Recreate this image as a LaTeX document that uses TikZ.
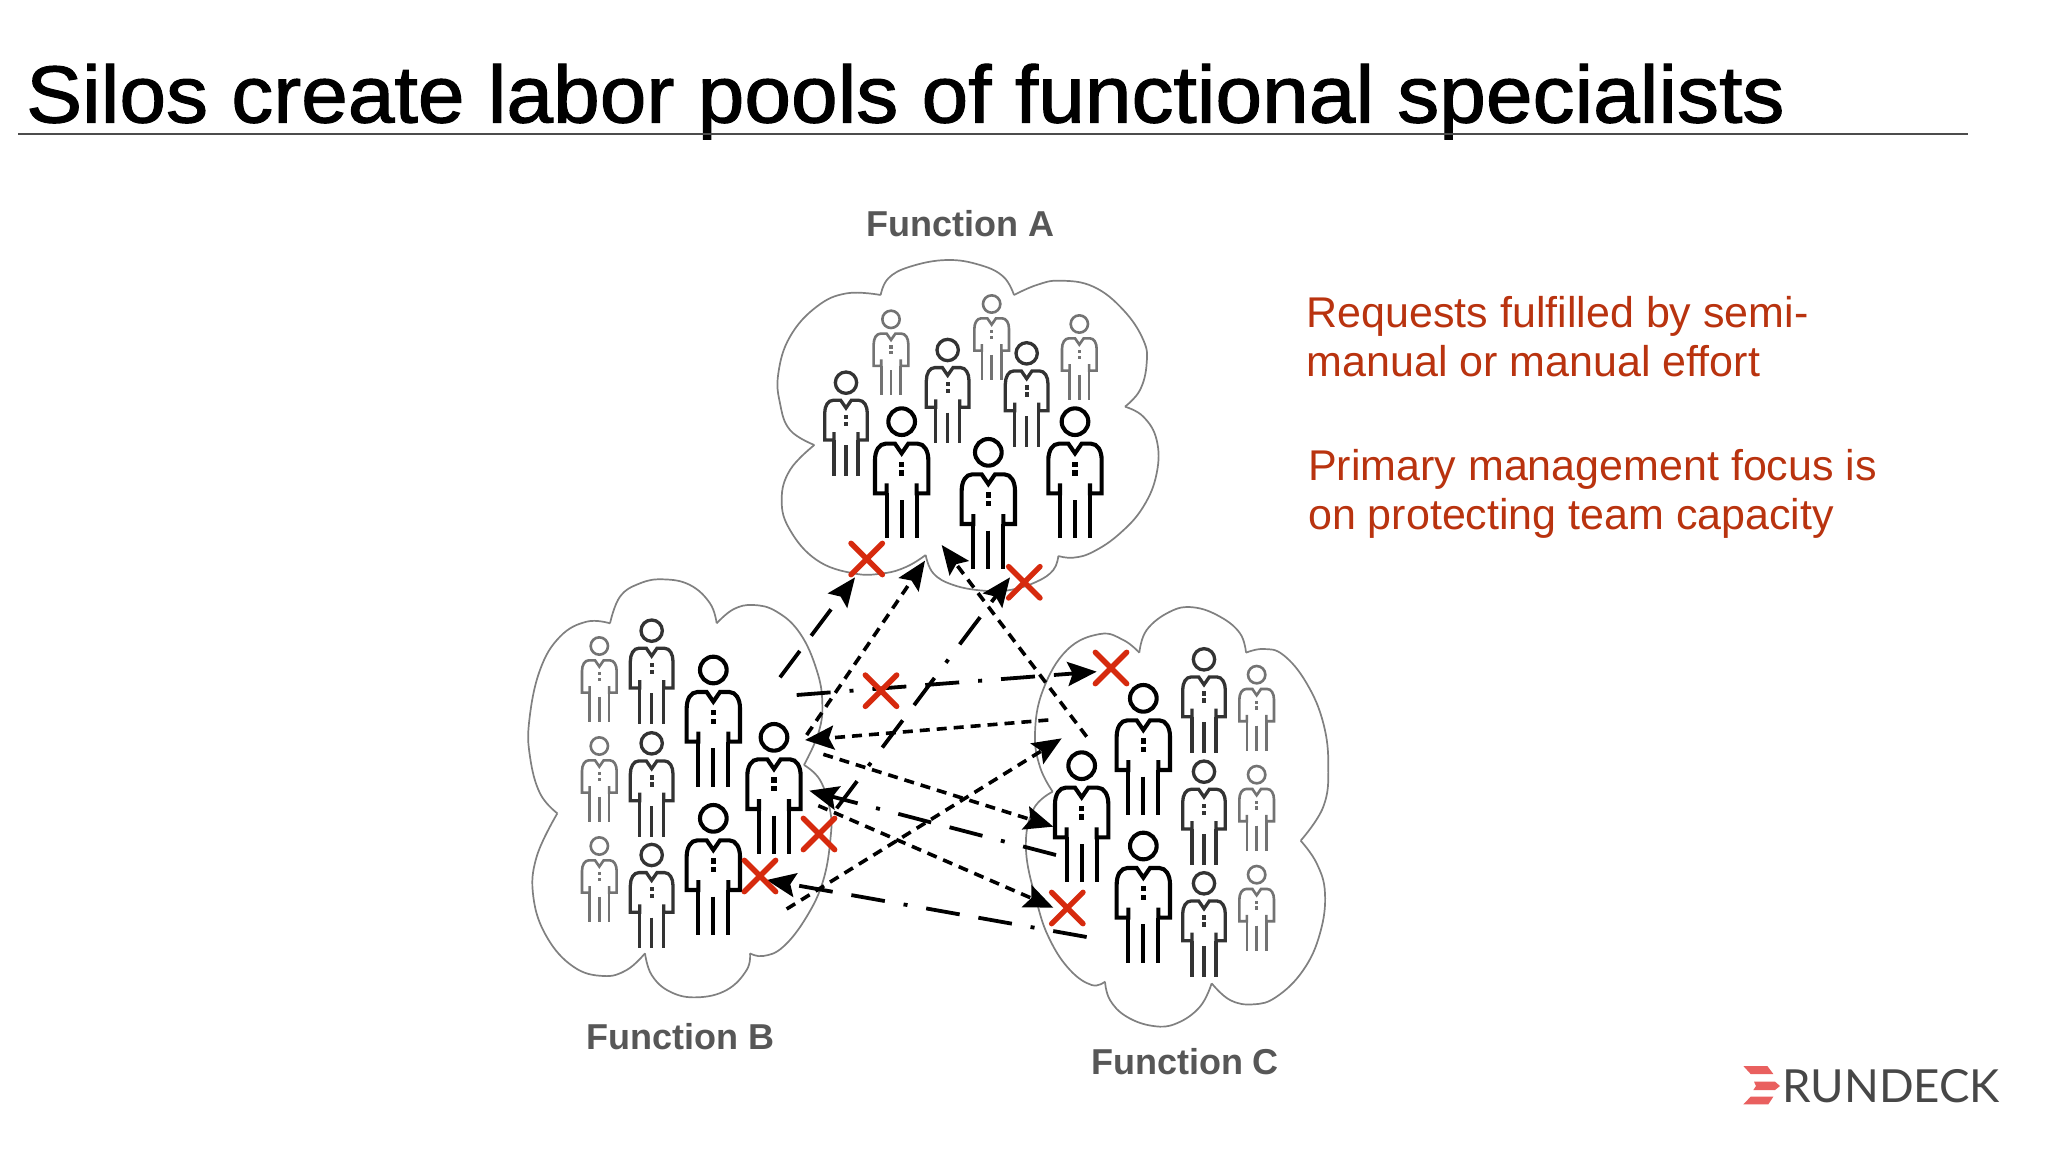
\documentclass[tikz,border=0pt]{standalone}
\usepackage{fontspec}
\setmainfont{Liberation Sans}
\newfontfamily\titlefont[FakeBold=1.3]{Liberation Sans}
\newfontfamily\logofont{Lato}
\usetikzlibrary{arrows.meta,shapes.misc}
\definecolor{xred}{HTML}{D62A0E}
\definecolor{txtred}{HTML}{B9330F}
\definecolor{logored}{HTML}{E9605F}
\definecolor{cloudgray}{HTML}{808080}
\tikzset{
  cloudline/.style={draw=cloudgray,line width=1.7pt,smooth,tension=0.7},
  xmark/.style={cross out,draw=xred,line width=5.4pt,line cap=round,minimum size=26pt,inner sep=0pt},
  shortdash/.style={draw=black,line width=3.6pt,dash pattern=on 10pt off 7pt,-{Stealth[length=29pt,width=24pt,inset=5pt]}},
  longdash/.style={draw=black,line width=3.8pt,dash pattern=on 33pt off 19pt,-{Stealth[length=29pt,width=24pt,inset=5pt]}},
  dashdot/.style={draw=black,line width=3.8pt,dash pattern=on 34pt off 19pt on 4pt off 19pt on 34pt off 19pt,-{Stealth[length=29pt,width=24pt,inset=5pt]}},
  funclabel/.style={inner sep=0pt,text=black!66,font=\bfseries\fontsize{36}{40}\selectfont},
  redtext/.style={inner sep=0pt,anchor=base west,text=txtred,font=\fontsize{43}{49}\selectfont},
}
% head centre x, y, relative scale, colour, line width
\newcommand{\personfig}[5]{%
  \begin{scope}[shift={(#1,#2)},scale=#3,draw=#4,line width=#5pt,line join=miter]
    \draw (0,0) circle (40);
    \draw (-45,185) -- (-45,215) -- (-80,215) -- (-80,115)
      .. controls (-80,88) and (-68,66) .. (-48,66) -- (-20,66) -- (0,95) -- (20,66) -- (48,66)
      .. controls (68,66) and (80,88) .. (80,115) -- (80,215) -- (45,215) -- (45,185);
    \draw (-45,215) -- (-45,350);
    \draw (45,215) -- (45,350);
    \draw (0,235) -- (0,350);
    \fill[#4] (-8,120) rectangle (8,136);
    \fill[#4] (-8,146) rectangle (8,162);
  \end{scope}}
\newcommand{\bigfig}[2]{\personfig{#1}{#2}{1}{black}{4.1}}
\newcommand{\midfig}[2]{\personfig{#1}{#2}{0.8}{black!80}{3.3}}
\newcommand{\lightfig}[2]{\personfig{#1}{#2}{0.65}{black!55}{2.6}}
\begin{document}
\begin{tikzpicture}[x=1pt,y=-1pt]
\useasboundingbox (0,0) rectangle (2048,1152);
\fill[white] (0,0) rectangle (2048,1152);
% title
\node[inner sep=0pt,anchor=base west,xscale=1.036,font=\titlefont\fontsize{81}{90}\selectfont] (title) at (26,122.5) {Silos create labor pools of functional specialists};
\draw[draw=black!70,line width=2pt] (18,133.5) coordinate (ruleL) -- (1968,133.5) coordinate (ruleR);
% labels
\node[funclabel] (fa) at (960.5,224) {Function A};
\node[funclabel] (fb) at (680.5,1037) {Function B};
\node[funclabel] (fc) at (1185,1062) {Function C};
\node[redtext] (r1) at (1306.5,327) {Requests fulfilled by semi-};
\node[redtext] (r2) at (1306.5,376) {manual or manual effort};
\node[redtext] (r3) at (1308,480.5) {Primary management focus is};
\node[redtext] (r4) at (1308,529.5) {on protecting team capacity};
% Cloud A
\begin{scope}[shift={(760,240)},scale=0.33333]
  \draw[cloudline] plot coordinates {(362,165)(385,115)(450,80)(560,60)(660,75)(730,110)(762,165)};
  \draw[cloudline] plot coordinates {(762,165)(830,135)(900,122)(1000,140)(1090,210)(1150,300)(1160,370)(1140,450)(1095,500)};
  \draw[cloudline] plot coordinates {(1095,500)(1150,530)(1190,600)(1190,700)(1150,800)(1080,880)(1000,935)(940,953)(895,948)};
  \draw[cloudline] plot coordinates {(895,948)(880,990)(830,1025)(750,1050)(670,1052)(580,1035)(520,1000)(497,945)};
  \draw[cloudline] plot coordinates {(497,945)(440,980)(370,1000)(280,1000)(170,960)(90,870)(65,780)(90,690)(163,615)};
  \draw[cloudline] plot coordinates {(163,615)(90,570)(60,490)(55,400)(90,290)(170,200)(260,160)(362,165)};
  \lightfig{393}{238}\lightfig{695}{192}\lightfig{958}{252}
  \midfig{258}{428}\midfig{563}{330}\midfig{800}{340}
  \bigfig{425}{545}\bigfig{685}{637}\bigfig{945}{545}
\end{scope}
% Cloud B
\begin{scope}[shift={(520,570)},scale=0.33333]
  \draw[cloudline] plot coordinates {(270,160)(300,80)(360,40)(430,28)(510,45)(570,100)(590,160)};
  \draw[cloudline] plot coordinates {(590,160)(640,118)(700,105)(770,125)(840,190)(890,300)(907,400)(895,490)(852,585)};
  \draw[cloudline] plot coordinates {(852,585)(900,630)(930,720)(932,800)(910,930)(860,1040)(790,1130)(730,1158)(690,1150)};
  \draw[cloudline] plot coordinates {(690,1150)(680,1200)(620,1260)(530,1282)(450,1265)(395,1215)(375,1150)};
  \draw[cloudline] plot coordinates {(375,1150)(320,1200)(250,1218)(160,1190)(80,1100)(40,980)(50,860)(112,730)};
  \draw[cloudline] plot coordinates {(112,730)(60,670)(30,560)(28,450)(60,300)(120,200)(200,155)(270,160)};
  \lightfig{238}{228}\lightfig{238}{528}\lightfig{238}{828}
  \midfig{395}{182}\midfig{395}{520}\midfig{395}{855}
  \bigfig{580}{300}\bigfig{762}{502}\bigfig{580}{745}
\end{scope}
% Cloud C
\begin{scope}[shift={(1030,600)},scale=0.33333]
  \draw[cloudline] plot coordinates {(328,158)(350,90)(420,35)(490,22)(570,50)(630,100)(648,158)};
  \draw[cloudline] plot coordinates {(648,158)(700,147)(760,165)(830,250)(880,370)(895,500)(880,620)(812,722)};
  \draw[cloudline] plot coordinates {(812,722)(860,790)(885,880)(870,1000)(820,1110)(740,1190)(670,1213)(600,1200)(545,1150)};
  \draw[cloudline] plot coordinates {(545,1150)(510,1220)(440,1270)(370,1278)(290,1250)(240,1200)(225,1145)};
  \draw[cloudline] plot coordinates {(225,1145)(185,1155)(120,1110)(60,1020)(21,909)(-12,750)(9,630)(68,575)};
  \draw[cloudline] plot coordinates {(68,575)(30,501)(15,399)(39,270)(111,150)(210,102)(280,120)(328,158)};
  \lightfig{680}{224}\lightfig{680}{524}\lightfig{680}{824}
  \midfig{522}{178}\midfig{522}{515}\midfig{522}{850}
  \bigfig{340}{295}\bigfig{155}{497}\bigfig{340}{738}
\end{scope}
% connectors
\begin{scope}[shift={(760,540)},scale=0.33333]
  \coordinate (a1) at (60,412);   \coordinate (b1) at (285,112);
  \coordinate (a2) at (140,585);  \coordinate (b2) at (495,62);
  \coordinate (a3) at (230,805);  \coordinate (b3) at (750,112);
  \coordinate (a4) at (980,590);  \coordinate (b4) at (545,15);
  \coordinate (a5) at (110,465);  \coordinate (b5) at (1010,395);
  \coordinate (a6) at (865,540);  \coordinate (b6) at (135,600);
  \coordinate (a7) at (190,643);  \coordinate (b7) at (880,860);
  \coordinate (a8) at (175,797);  \coordinate (b8) at (880,1103);
  \coordinate (a9) at (80,1107);  \coordinate (b9) at (905,595);
  \coordinate (a10) at (888,945); \coordinate (b10) at (148,752);
  \coordinate (a11) at (980,1191);\coordinate (b11) at (20,1020);
\end{scope}
\draw[longdash] (a1) -- (b1);
\draw[shortdash] (a2) -- (b2);
\draw[dashdot] (a3) -- (b3);
\draw[shortdash] (a4) -- (b4);
\draw[dashdot] (a5) -- (b5);
\draw[shortdash] (a6) -- (b6);
\draw[shortdash] (a7) -- (b7);
\draw[shortdash] (a8) -- (b8);
\draw[shortdash] (a9) -- (b9);
\draw[dashdot] (a10) -- (b10);
\draw[dashdot] (a11) -- (b11);
% crosses
\node[xmark] (x1) at (866.7,559) {};
\node[xmark] (x2) at (1024.3,582.3) {};
\node[xmark] (x3) at (881,690.7) {};
\node[xmark] (x4) at (819,834) {};
\node[xmark] (x5) at (760,876) {};
\node[xmark] (x6) at (1111,668) {};
\node[xmark] (x7) at (1067.3,908) {};
% logo
\begin{scope}[shift={(1730,1050)},scale=0.33333]
  \fill[logored] (40,48) -- (112,48) -- (130,72) -- (62,72) -- cycle;
  \fill[logored] (72,95) -- (135,95) -- (150,108) -- (135,120) -- (70,120) -- (78,108) -- cycle;
  \fill[logored] (62,140) -- (130,140) -- (115,163) -- (40,163) -- cycle;
\end{scope}
\node[inner sep=0pt,anchor=base west,text=black!72,font=\logofont\fontsize{45.6}{50}\selectfont] (logo) at (1782,1102) {RUNDECK};
\end{tikzpicture}
\end{document}
